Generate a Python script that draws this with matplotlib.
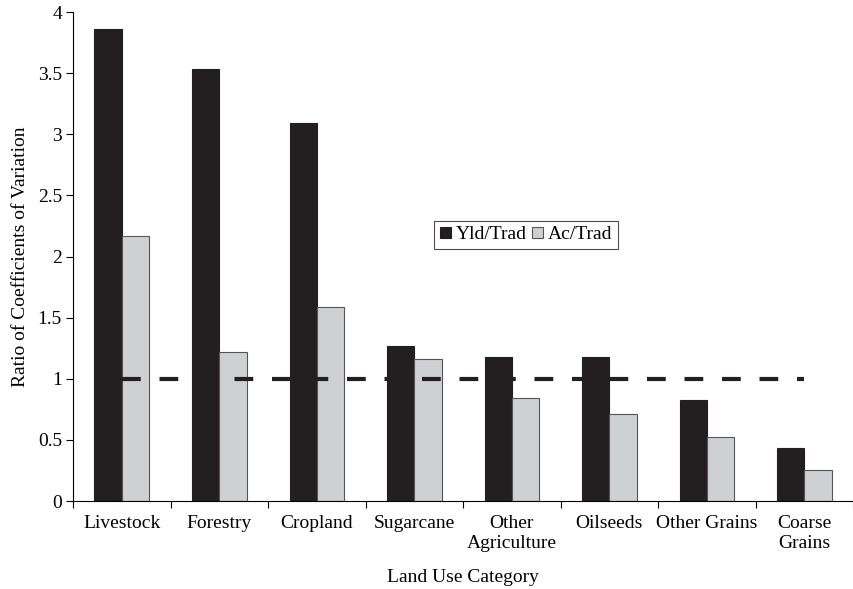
import numpy as np
import matplotlib.pyplot as plt

plt.rcParams['font.family'] = ['Liberation Serif', 'DejaVu Serif']

# values
categories = ['Livestock', 'Forestry', 'Cropland', 'Sugarcane', 'Other\nAgriculture',
              'Oilseeds', 'Other Grains', 'Coarse\nGrains']
yld_trad = [3.86, 3.53, 3.09, 1.27, 1.18, 1.18, 0.83, 0.43]
ac_trad = [2.17, 1.22, 1.59, 1.16, 0.84, 0.71, 0.52, 0.25]
reference = 1.0

x = np.arange(len(categories))
w = 0.28
fs = 14

fig = plt.figure(figsize=(8.54, 5.89), dpi=100)
ax = fig.add_axes([0.0855, 0.1494, 0.9135, 0.8302])

ax.bar(x - w / 2, yld_trad, w, color='#231f20', edgecolor='#231f20', linewidth=0.8,
       label='Yld/Trad')
ax.bar(x + w / 2, ac_trad, w, color='#cfd0d2', edgecolor='#555555', linewidth=0.8,
       label='Ac/Trad')
ax.plot([x[0], x[-1]], [reference, reference], color='#231f20', linewidth=3,
        dashes=(4.5, 4.5), zorder=3)

ax.set_xlim(-0.5, len(categories) - 0.5)
ax.set_ylim(0, 4)
ax.set_yticks(np.arange(0, 4.01, 0.5))
ax.set_yticklabels(['0', '0.5', '1', '1.5', '2', '2.5', '3', '3.5', '4'])
ax.set_xticks(x)
ax.set_xticklabels(categories, linespacing=1.25)
ax.set_xticks(np.arange(-0.5, len(categories), 1.0), minor=True)
ax.tick_params(axis='x', which='major', length=0, pad=10, labelsize=fs)
ax.tick_params(axis='x', which='minor', length=5, width=0.8, direction='out')
ax.tick_params(axis='y', length=5, width=0.8, labelsize=fs, pad=3)

for s in ['top', 'right']:
    ax.spines[s].set_visible(False)
for s in ['left', 'bottom']:
    ax.spines[s].set_linewidth(0.8)

ax.set_ylabel('Ratio of Coefficients of Variation', fontsize=fs, labelpad=6)
ax.set_xlabel('Land Use Category', fontsize=fs, labelpad=12)

leg = ax.legend(loc='center', bbox_to_anchor=(0.581, 0.544), ncol=2, fontsize=fs,
                frameon=True, fancybox=False, edgecolor='#231f20',
                handlelength=0.55, handleheight=0.55, handletextpad=0.25,
                columnspacing=0.3, borderpad=0.3)
leg.get_frame().set_linewidth(0.8)

fig.savefig('out.png', dpi=100)
